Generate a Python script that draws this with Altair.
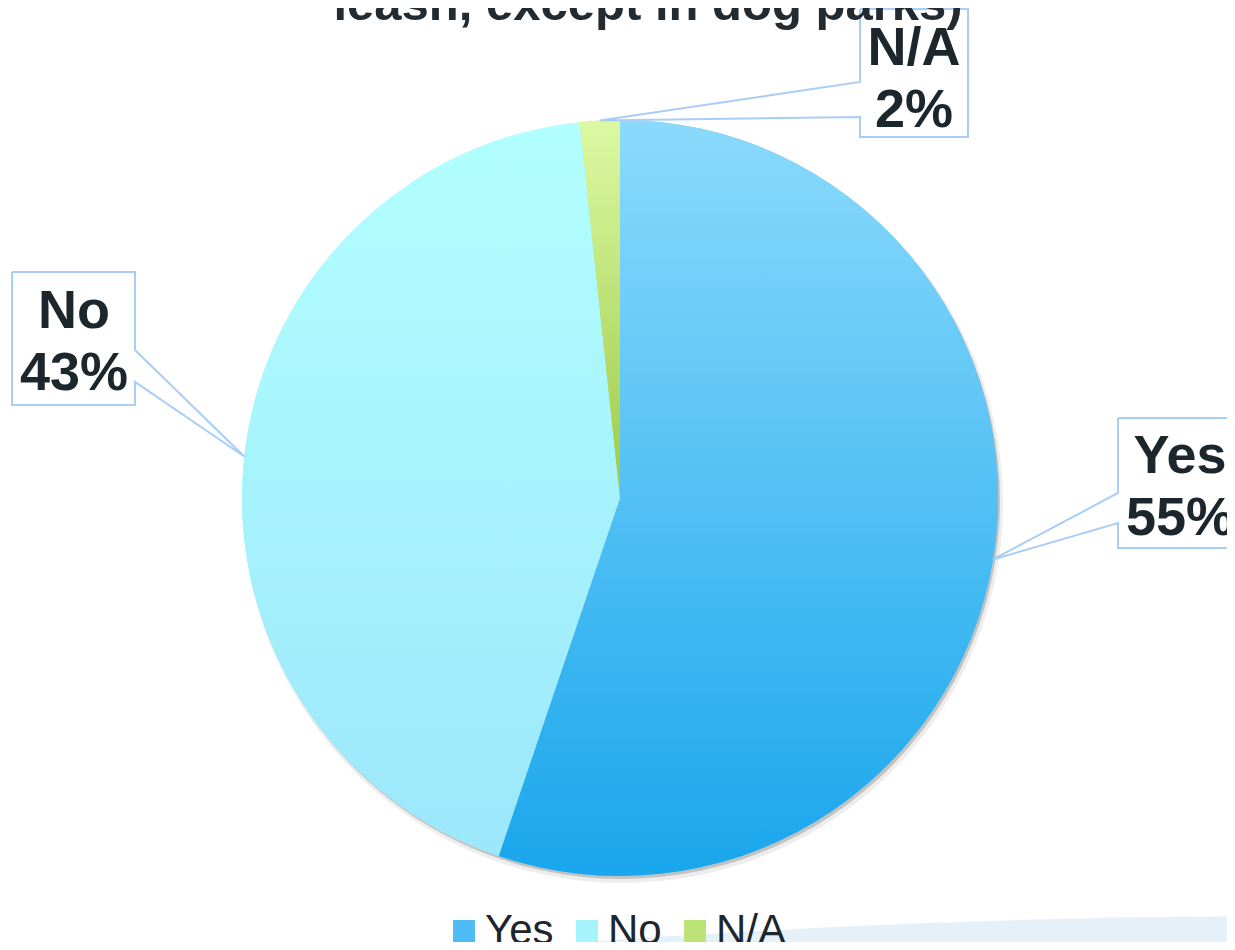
import altair as alt
import numpy as np
import pandas as pd

# ---------------- data ----------------
categories = ["Yes", "No", "N/A"]
values = [55.2, 43.1, 1.7]
pct_labels = ["55%", "43%", "2%"]
title_tail = "leash, except in dog parks)"

# ---------------- style ----------------
top_colors = ["#8bdafc", "#b2ffff", "#dcf9a3"]
bottom_colors = ["#19a6ec", "#9ce7fa", "#9cc948"]
legend_colors = ["#4fbdf3", "#a6f2fd", "#bde276"]
text_color = "#1c262d"
callout_color = "#a8cef7"
FONT = "Liberation Sans"

# ---------------- layout (page pixels) ----------------
W, H = 1219, 934
OX, OY = 8, 8
CX, CY, R = 620, 498, 378
boxes = {
    "Yes": dict(x0=1118, x1=1250, y0=418, y1=548, side="left", w0=493, w1=523, tx=1180, ty=473),
    "No": dict(x0=12, x1=135, y0=272, y1=405, side="right", w0=350, w1=382, tx=74, ty=328),
    "N/A": dict(x0=860, x1=968, y0=9, y1=137, side="left", w0=82, w1=117, tx=914, ty=65),
}

# ---------------- derived tables ----------------
vals = np.array(values, dtype=float)
frac = vals / vals.sum()
t1 = np.cumsum(frac) * 2 * np.pi
t0 = t1 - frac * 2 * np.pi
mid = (t0 + t1) / 2

pie = pd.DataFrame({"cat": categories, "value": values, "t0": t0, "t1": t1})

poly_rows, box_rows, text_rows = [], [], []
for k, c in enumerate(categories):
    b = boxes[c]
    ax = CX + R * np.sin(mid[k])
    ay = CY - R * np.cos(mid[k])
    x0, x1, y0, y1 = b["x0"], b["x1"], b["y0"], b["y1"]
    if b["side"] == "right":
        pts = [(x0, y0), (x1, y0), (x1, b["w0"]), (ax, ay), (x1, b["w1"]), (x1, y1), (x0, y1), (x0, y0)]
    else:
        pts = [(x0, y0), (x1, y0), (x1, y1), (x0, y1), (x0, b["w1"]), (ax, ay), (x0, b["w0"]), (x0, y0)]
    for i, (px, py) in enumerate(pts):
        poly_rows.append({"cat": c, "i": i, "px": px, "py": py})
    box_rows.append({"cat": c, "x0": x0, "x1": x1, "y0": y0, "y1": y1})
    text_rows.append({"cat": c, "tx": b["tx"], "ty": b["ty"], "txt": f"{c}\n{pct_labels[k]}"})

poly = pd.DataFrame(poly_rows)
boxdf = pd.DataFrame(box_rows)
textdf = pd.DataFrame(text_rows)
titledf = pd.DataFrame({"txt": [title_tail], "tx": [648], "ty": [20]})

xs = alt.Scale(domain=[OX, OX + W], range=[0, W], nice=False, zero=False)
ys = alt.Scale(domain=[OY, OY + H], range=[0, H], nice=False, zero=False)

# background swoosh
swoosh = alt.Chart(pd.DataFrame({"a": [0.0], "b": [2 * np.pi]})).mark_arc(
    outerRadius=9840, color="#e6f0f8"
).encode(
    theta=alt.Theta("a:Q", scale=None), theta2="b:Q",
    x=alt.value(1300 - OX), y=alt.value(916 + 9840 - OY),
)

shadow1 = alt.Chart(pie).mark_arc(outerRadius=R + 2, color="#000000", opacity=0.07).encode(
    theta=alt.Theta("t0:Q", scale=None), theta2="t1:Q",
    x=alt.value(CX - OX + 3), y=alt.value(CY - OY + 5),
)
shadow2 = alt.Chart(pie).mark_arc(outerRadius=R, color="#000000", opacity=0.18).encode(
    theta=alt.Theta("t0:Q", scale=None), theta2="t1:Q",
    x=alt.value(CX - OX + 2), y=alt.value(CY - OY + 3),
)

base = alt.Chart(pie).mark_arc(outerRadius=R).encode(
    theta=alt.Theta("t0:Q", scale=None), theta2="t1:Q",
    x=alt.value(CX - OX), y=alt.value(CY - OY),
    color=alt.Color(
        "cat:N",
        scale=alt.Scale(domain=categories, range=legend_colors),
        sort=categories,
        legend=alt.Legend(
            orient="none", direction="horizontal", legendX=435, legendY=902,
            title=None, symbolType="square", symbolSize=484, symbolStrokeWidth=0,
            labelFontSize=42, labelFont=FONT, labelColor=text_color,
            labelOffset=0, columnPadding=12, padding=0, labelLimit=0,
        ),
    ),
)

grad_layers = []
for k, c in enumerate(categories):
    g = alt.LinearGradient(
        gradient="linear", x1=0, x2=0, y1=0, y2=1,
        stops=[alt.GradientStop(color=top_colors[k], offset=0),
               alt.GradientStop(color=bottom_colors[k], offset=1)],
    )
    grad_layers.append(
        alt.Chart(pie).transform_filter(alt.datum.cat == c).mark_arc(outerRadius=R, color=g).encode(
            theta=alt.Theta("t0:Q", scale=None), theta2="t1:Q",
            x=alt.value(CX - OX), y=alt.value(CY - OY),
        )
    )

boxfill = alt.Chart(boxdf).mark_rect(color="white").encode(
    x=alt.X("x0:Q", scale=xs, axis=None), x2="x1:Q",
    y=alt.Y("y0:Q", scale=ys, axis=None), y2="y1:Q",
)
outline = alt.Chart(poly).mark_line(color=callout_color, strokeWidth=2, strokeJoin="miter").encode(
    x=alt.X("px:Q", scale=xs, axis=None),
    y=alt.Y("py:Q", scale=ys, axis=None),
    detail="cat:N", order="i:Q",
)
labels = alt.Chart(textdf).mark_text(
    fontSize=54, fontWeight="bold", font=FONT, color=text_color,
    lineHeight=62, lineBreak="\n", align="center", baseline="alphabetic",
).encode(
    x=alt.X("tx:Q", scale=xs, axis=None),
    y=alt.Y("ty:Q", scale=ys, axis=None),
    text="txt:N",
)
title = alt.Chart(titledf).mark_text(
    fontSize=49, fontWeight="bold", font=FONT, color="#222b31",
    align="center", baseline="alphabetic",
).encode(
    x=alt.X("tx:Q", scale=xs, axis=None),
    y=alt.Y("ty:Q", scale=ys, axis=None),
    text="txt:N",
)

chart = alt.layer(
    swoosh, shadow1, shadow2, base, *grad_layers, boxfill, outline, title, labels
).properties(
    width=W, height=H, padding=0, background="white",
    autosize=alt.AutoSizeParams(type="none"),
).configure_view(strokeWidth=0)

chart.save("out.html", embed_options={"renderer": "svg", "actions": False})
